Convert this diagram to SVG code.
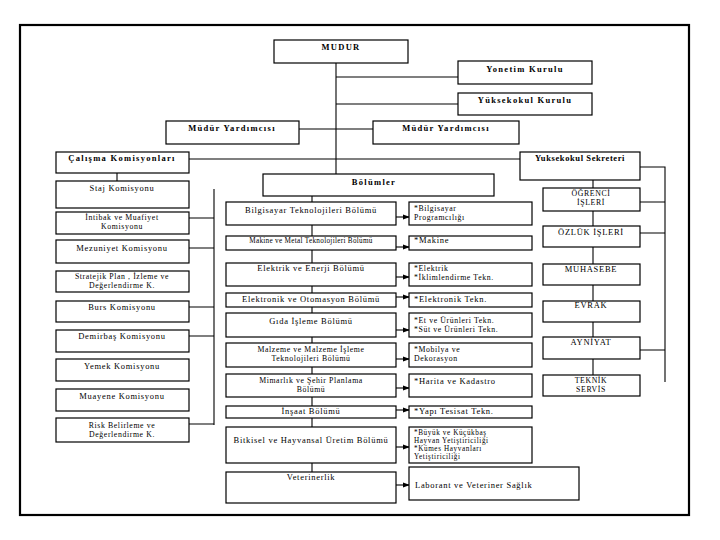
<svg xmlns="http://www.w3.org/2000/svg" width="720" height="540" viewBox="0 0 720 540">
<style>
  .bx{fill:#fff;stroke:#000;stroke-width:1.2}
  .ln{stroke:#000;stroke-width:1.1;fill:none}
  .t{font-family:"Liberation Serif","DejaVu Serif",serif;font-size:8.5px;fill:#000;letter-spacing:0.7px}
  .c{text-anchor:middle}
  .b{font-weight:bold;letter-spacing:1.3px}
  .s{font-size:7.2px;letter-spacing:0.3px}
  .m{font-size:7.8px;letter-spacing:0.6px}
  .n{font-size:7.2px;letter-spacing:0.6px}
</style>
<defs>
  <marker id="ar" markerWidth="7" markerHeight="6" refX="6" refY="3" orient="auto" markerUnits="userSpaceOnUse">
    <path d="M0,0.5 L7,3 L0,5.5 Z" fill="#000"/>
  </marker>
</defs>
<rect x="0" y="0" width="720" height="540" fill="#fff"/>
<rect x="20" y="25" width="669" height="490" fill="none" stroke="#000" stroke-width="2.2"/>

<g id="connectors">
  <path class="ln" d="M336,63 V174"/>
  <path class="ln" d="M336,77 H458 M336,104 H458"/>
  <path class="ln" d="M299,129 H373"/>
  <path class="ln" d="M189,159 H520"/>
  <path class="ln" d="M117,173 V181"/>
  <path class="ln" d="M214,189 V425 M189,218 H214 M189,248 H214 M189,307 H214 M189,336 H214 M189,424 H214"/>
  <path class="ln" d="M312,196 V472"/>
  <path class="ln" d="M593,180 V375"/>
  <path class="ln" d="M640,167 H665 V382 M640,202 H665 M640,233 H665 M640,350 H665"/>
  <g marker-end="url(#ar)">
    <path class="ln" d="M396,217 H409"/>
    <path class="ln" d="M396,247 H409"/>
    <path class="ln" d="M396,277 H409"/>
    <path class="ln" d="M396,297 H409"/>
    <path class="ln" d="M396,330 H409"/>
    <path class="ln" d="M396,359 H409"/>
    <path class="ln" d="M396,388 H409"/>
    <path class="ln" d="M396,410 H409"/>
    <path class="ln" d="M396,447 H409"/>
    <path class="ln" d="M396,485 H409"/>
  </g>
</g>

<g id="mudur"><rect class="bx" x="274" y="40" width="134" height="23"/><text class="t b c" x="341" y="50">MUDUR</text></g>
<g id="yonetim-kurulu"><rect class="bx" x="458" y="61" width="134" height="23"/><text class="t b c" x="525" y="72">Yonetim Kurulu</text></g>
<g id="yuksekokul-kurulu"><rect class="bx" x="458" y="93" width="134" height="22"/><text class="t b c" x="525" y="103">Yüksekokul Kurulu</text></g>
<g id="mudur-yrd-1"><rect class="bx" x="166" y="121" width="133" height="23"/><text class="t b c" x="232" y="131">Müdür Yardımcısı</text></g>
<g id="mudur-yrd-2"><rect class="bx" x="373" y="121" width="146" height="23"/><text class="t b c" x="446" y="131">Müdür Yardımcısı</text></g>

<g id="calisma-komisyonlari"><rect class="bx" x="56" y="152" width="133" height="21"/><text class="t b c" x="122" y="161">Çalışma Komisyonları</text></g>
<g id="staj"><rect class="bx" x="56" y="181" width="133" height="27"/><text class="t c" x="122" y="191">Staj Komisyonu</text></g>
<g id="intibak"><rect class="bx" x="56" y="212" width="133" height="22"/><text class="t m c" x="122" y="220">İntibak ve Muafiyet</text><text class="t m c" x="122" y="229">Komisyonu</text></g>
<g id="mezuniyet"><rect class="bx" x="56" y="240" width="133" height="23"/><text class="t c" x="122" y="251">Mezuniyet Komisyonu</text></g>
<g id="stratejik"><rect class="bx" x="56" y="271" width="133" height="21"/><text class="t m c" x="122" y="279">Stratejik Plan , İzleme ve</text><text class="t m c" x="122" y="288">Değerlendirme K.</text></g>
<g id="burs"><rect class="bx" x="56" y="301" width="133" height="21"/><text class="t c" x="122" y="310">Burs Komisyonu</text></g>
<g id="demirbas"><rect class="bx" x="56" y="330" width="133" height="22"/><text class="t c" x="122" y="339">Demirbaş Komisyonu</text></g>
<g id="yemek"><rect class="bx" x="56" y="359" width="133" height="22"/><text class="t c" x="122" y="369">Yemek Komisyonu</text></g>
<g id="muayene"><rect class="bx" x="56" y="389" width="133" height="22"/><text class="t c" x="122" y="399">Muayene Komisyonu</text></g>
<g id="risk"><rect class="bx" x="56" y="418" width="133" height="24"/><text class="t m c" x="122" y="428">Risk Belirleme ve</text><text class="t m c" x="122" y="437">Değerlendirme K.</text></g>

<g id="bolumler"><rect class="bx" x="263" y="174" width="231" height="22"/><text class="t b c" x="374" y="185">Bölümler</text></g>

<g id="bilgisayar"><rect class="bx" x="226" y="202" width="170" height="23"/><text class="t c" x="311" y="213">Bilgisayar Teknolojileri Bölümü</text></g>
<g id="makine"><rect class="bx" x="226" y="236" width="170" height="14"/><text class="t s c" x="311" y="243">Makine ve Metal Teknolojileri Bölümü</text></g>
<g id="elektrik"><rect class="bx" x="226" y="263" width="170" height="23"/><text class="t c" x="311" y="271">Elektrik ve Enerji Bölümü</text></g>
<g id="elektronik"><rect class="bx" x="226" y="293" width="170" height="14"/><text class="t c" x="311" y="302">Elektronik ve Otomasyon Bölümü</text></g>
<g id="gida"><rect class="bx" x="226" y="313" width="170" height="24"/><text class="t c" x="311" y="324">Gıda İşleme Bölümü</text></g>
<g id="malzeme"><rect class="bx" x="226" y="343" width="170" height="24"/><text class="t m c" x="311" y="352">Malzeme ve Malzeme İşleme</text><text class="t m c" x="311" y="361">Teknolojileri Bölümü</text></g>
<g id="mimarlik"><rect class="bx" x="226" y="374" width="170" height="23"/><text class="t m c" x="311" y="383">Mimarlık ve Şehir Planlama</text><text class="t m c" x="311" y="392">Bölümü</text></g>
<g id="insaat"><rect class="bx" x="226" y="406" width="170" height="12"/><text class="t c" x="311" y="414">İnşaat Bölümü</text></g>
<g id="bitkisel"><rect class="bx" x="226" y="427" width="170" height="36"/><text class="t c" x="311" y="443">Bitkisel ve Hayvansal Üretim Bölümü</text></g>
<g id="veterinerlik"><rect class="bx" x="226" y="472" width="170" height="31"/><text class="t c" x="311" y="480">Veterinerlik</text></g>

<g id="p-bilgisayar"><rect class="bx" x="409" y="202" width="123" height="23"/><text class="t m" x="414" y="211">*Bilgisayar</text><text class="t m" x="414" y="220">Programcılığı</text></g>
<g id="p-makine"><rect class="bx" x="409" y="236" width="123" height="14"/><text class="t" x="414" y="243">*Makine</text></g>
<g id="p-elektrik"><rect class="bx" x="409" y="263" width="123" height="23"/><text class="t m" x="414" y="271">*Elektrik</text><text class="t m" x="414" y="280">*İklimlendirme Tekn.</text></g>
<g id="p-elektronik"><rect class="bx" x="409" y="293" width="123" height="14"/><text class="t" x="414" y="302">*Elektronik Tekn.</text></g>
<g id="p-gida"><rect class="bx" x="409" y="313" width="123" height="24"/><text class="t m" x="414" y="323">*Et ve Ürünleri Tekn.</text><text class="t m" x="414" y="332">*Süt ve Ürünleri Tekn.</text></g>
<g id="p-malzeme"><rect class="bx" x="409" y="343" width="123" height="24"/><text class="t m" x="414" y="352">*Mobilya ve</text><text class="t m" x="414" y="361">Dekorasyon</text></g>
<g id="p-mimarlik"><rect class="bx" x="409" y="374" width="123" height="23"/><text class="t" x="414" y="384">*Harita ve Kadastro</text></g>
<g id="p-insaat"><rect class="bx" x="409" y="406" width="123" height="12"/><text class="t" x="414" y="414">*Yapı Tesisat Tekn.</text></g>
<g id="p-bitkisel"><rect class="bx" x="409" y="427" width="123" height="36"/><text class="t n" x="414" y="435">*Büyük ve Küçükbaş</text><text class="t n" x="414" y="443">Hayvan Yetiştiriciliği</text><text class="t n" x="414" y="451">*Kümes Hayvanları</text><text class="t n" x="414" y="459">Yetiştiriciliği</text></g>
<g id="p-veterinerlik"><rect class="bx" x="409" y="467" width="170" height="33"/><text class="t" x="415" y="488">Laborant ve Veteriner Sağlık</text></g>

<g id="sekreter"><rect class="bx" x="520" y="152" width="120" height="28"/><text class="t b c" x="580" y="161" style="letter-spacing:0.6px">Yuksekokul Sekreteri</text></g>
<g id="ogrenci"><rect class="bx" x="543" y="188" width="97" height="23"/><text class="t m c" x="591" y="196">ÖĞRENCİ</text><text class="t m c" x="591" y="205">İŞLERİ</text></g>
<g id="ozluk"><rect class="bx" x="543" y="226" width="97" height="21"/><text class="t c" x="591" y="235">ÖZLÜK İŞLERİ</text></g>
<g id="muhasebe"><rect class="bx" x="543" y="264" width="97" height="21"/><text class="t c" x="591" y="272">MUHASEBE</text></g>
<g id="evrak"><rect class="bx" x="543" y="301" width="97" height="21"/><text class="t c" x="591" y="308">EVRAK</text></g>
<g id="ayniyat"><rect class="bx" x="543" y="337" width="97" height="22"/><text class="t c" x="591" y="345">AYNİYAT</text></g>
<g id="teknik"><rect class="bx" x="543" y="375" width="97" height="21"/><text class="t m c" x="591" y="383">TEKNİK</text><text class="t m c" x="591" y="392">SERVİS</text></g>
</svg>
